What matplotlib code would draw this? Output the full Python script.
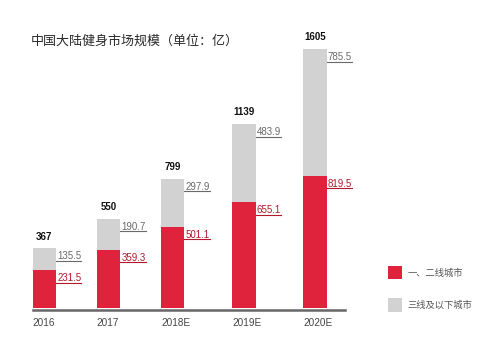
import matplotlib
matplotlib.use("Agg")
from matplotlib import pyplot as plt
from matplotlib.patches import Rectangle
from matplotlib.lines import Line2D
import matplotlib.transforms as mtrans
import numpy as np

# data
years = ["2016", "2017", "2018E", "2019E", "2020E"]
tier12 = [231.5, 359.3, 501.1, 655.1, 819.5]
tier3 = [135.5, 190.7, 297.9, 483.9, 785.5]
totals = [367, 550, 799, 1139, 1605]
series_names = ["一、二线城市", "三线及以下城市"]
title = "中国大陆健身市场规模（单位：亿）"

RED = "#e0233d"
GREY = "#d2d2d2"
RED_TXT = "#b3192c"
GREY_TXT = "#6a6a6a"
CJK = ["Noto Sans CJK SC", "DejaVu Sans"]
NUM = ["Liberation Sans", "DejaVu Sans"]

W, H = 493, 359
fig = plt.figure(figsize=(W / 100, H / 100), dpi=100)
fig.patch.set_facecolor("white")

# axes placed in pixel terms of the reference
base, top = 307.5, 30
ax = fig.add_axes([32.7 / W, (H - base) / H, 312.3 / W, (base - top) / H])
pos = np.array([0, 1, 2.006, 3.12, 4.23])
bw = 0.365
ax.bar(pos, tier12, bw, color=RED, align="center")
ax.bar(pos, tier3, bw, bottom=tier12, color=GREY, align="center")
ax.set_xlim(-bw / 2, -bw / 2 + 312.3 / 64)
ax.set_ylim(0, (base - top) / 0.161)

for s in ["top", "left", "right"]:
    ax.spines[s].set_visible(False)
ax.spines["bottom"].set_position(("outward", 2))
ax.spines["bottom"].set_color("#666666")
ax.spines["bottom"].set_linewidth(1.8)
ax.set_yticks([])
ax.set_xticks(pos - bw / 2)
ax.set_xticklabels(years, ha="left", family=NUM, fontsize=7.2, color="#444444")
ax.tick_params(axis="x", length=0, pad=5.5)

to_pts = 72 / 100
labels = []
for i in range(len(years)):
    # total above bar
    tr = mtrans.offset_copy(ax.transData, fig=fig, y=11.7 * to_pts, units="points")
    ax.text(pos[i], totals[i], str(totals[i]), transform=tr, ha="center", va="center",
            family=NUM, fontsize=7.0, fontweight="bold", color="#111111")
    # segment values to the right
    tr2 = mtrans.offset_copy(ax.transData, fig=fig, x=1.2 * to_pts, y=-8 * to_pts, units="points")
    t1 = ax.text(pos[i] + bw / 2, tier12[i] + tier3[i], f"{tier3[i]:.1f}", transform=tr2,
                 ha="left", va="center", family=NUM, fontsize=7.0, color=GREY_TXT)
    t2 = ax.text(pos[i] + bw / 2, tier12[i], f"{tier12[i]:.1f}", transform=tr2,
                 ha="left", va="center", family=NUM, fontsize=7.0, color=RED_TXT)
    labels.append((t1, GREY_TXT))
    labels.append((t2, RED_TXT))

fig.text(30.5 / W, 1 - 41.7 / H, title, family=CJK, fontsize=9.4, color="#2a2a2a",
         ha="left", va="center")

# legend
for k, (name, col) in enumerate(zip(series_names, [RED, GREY])):
    y0 = 266 + k * 32.3
    fig.add_artist(Rectangle((387.7 / W, 1 - (y0 + 13.3) / H), 14 / W, 13.3 / H,
                             transform=fig.transFigure, color=col, lw=0))
    fig.text(407.7 / W, 1 - (y0 + 7) / H, name, family=CJK, fontsize=6.7,
             color="#555555", ha="left", va="center")

# underline the segment values
fig.canvas.draw()
r = fig.canvas.get_renderer()
for t, col in labels:
    bb = t.get_window_extent(r)
    x0 = bb.x0 - 1.2
    yl = (bb.y0 + bb.y1) / 2 - 4.5
    fig.add_artist(Line2D([x0 / W, bb.x1 / W], [yl / H, yl / H], transform=fig.transFigure,
                          color=col, lw=0.8))

fig.savefig("out.png", dpi=100)
